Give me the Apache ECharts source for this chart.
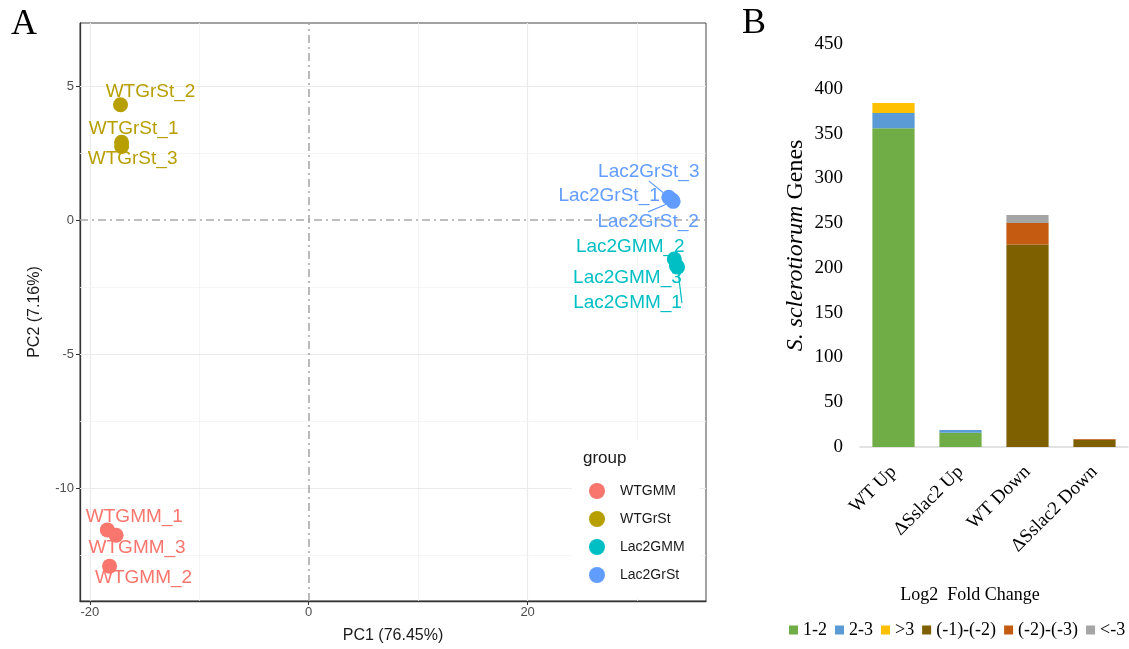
<!DOCTYPE html>
<html>
<head>
<meta charset="utf-8">
<script src="https://cdn.jsdelivr.net/npm/echarts@6/dist/echarts.min.js"></script>
<style>
  html, body { margin: 0; background: #fff; }
  #chart { width: 1129px; height: 649px; }
</style>
</head>
<body>
<div id="chart"></div>
<script>
// ---- panel A data (PCA) ----
var groups = ['WTGMM', 'WTGrSt', 'Lac2GMM', 'Lac2GrSt'];
var wtgmmNames = ['WTGMM_1', 'WTGMM_3', 'WTGMM_2'];
var wtgmmPC1 = [-18.4, -17.6, -18.2];
var wtgmmPC2 = [-11.55, -11.75, -12.9];
var wtgrstNames = ['WTGrSt_2', 'WTGrSt_1', 'WTGrSt_3'];
var wtgrstPC1 = [-17.2, -17.1, -17.1];
var wtgrstPC2 = [4.3, 2.9, 2.75];
var lacgmmNames = ['Lac2GMM_2', 'Lac2GMM_3', 'Lac2GMM_1'];
var lacgmmPC1 = [33.4, 33.6, 33.7];
var lacgmmPC2 = [-1.45, -1.7, -1.75];
var lacgrstNames = ['Lac2GrSt_3', 'Lac2GrSt_1', 'Lac2GrSt_2'];
var lacgrstPC1 = [32.9, 33.2, 33.3];
var lacgrstPC2 = [0.85, 0.75, 0.7];

// ---- panel B data (gene counts) ----
var comparisons = ['WT Up', '\u0394Sslac2 Up', 'WT Down', '\u0394Sslac2 Down'];
var bins = ['1-2', '2-3', '>3', '(-1)-(-2)', '(-2)-(-3)', '<-3'];
var fc1to2 = [356, 16, 0, 0];
var fc2to3 = [17, 3, 0, 0];
var fcOver3 = [11, 0, 0, 0];
var fcM1toM2 = [0, 0, 226, 8];
var fcM2toM3 = [0, 0, 24, 1];
var fcUnderM3 = [0, 0, 9, 0];

// label placement (pixel shift from point, like ggrepel)
var labelShift = {
  'WTGMM_1': [27, -13], 'WTGMM_3': [21, 12], 'WTGMM_2': [34, 12],
  'WTGrSt_2': [30, -13], 'WTGrSt_1': [12, -14], 'WTGrSt_3': [11, 12],
  'Lac2GMM_2': [-44, -12], 'Lac2GMM_3': [-49, 12], 'Lac2GMM_1': [-50, 36],
  'Lac2GrSt_3': [-20, -26], 'Lac2GrSt_1': [-63, -4], 'Lac2GrSt_2': [-25, 20]
};
var withLine = ['Lac2GrSt_3', 'Lac2GrSt_2', 'Lac2GMM_1'];

var groupColors = ['#F8766D', '#B79F00', '#00BFC4', '#619CFF'];
var binColors = ['#70AD47', '#5B9BD5', '#FFC000', '#7F6000', '#C55A11', '#A5A5A5'];
var sans = 'Liberation Sans, Arial, sans-serif';
var serif = 'Liberation Serif, Times New Roman, serif';

function pts(names, xs, ys) {
  return names.map(function (n, i) {
    var item = { name: n, value: [xs[i], ys[i]] };
    if (withLine.indexOf(n) >= 0) item.labelLine = { show: true };
    return item;
  });
}

function scatterSeries(idx, data) {
  return {
    name: groups[idx],
    type: 'scatter',
    xAxisIndex: 0, yAxisIndex: 0,
    symbolSize: 15,
    z: 3,
    itemStyle: { color: groupColors[idx], opacity: 1 },
    label: {
      show: true, position: 'inside', formatter: '{b}',
      color: groupColors[idx], fontFamily: sans, fontSize: 19
    },
    labelLine: { show: false, lineStyle: { color: groupColors[idx], width: 1.2 } },
    labelLayout: function (p) {
      var o = labelShift[p.text];
      return o ? { dx: o[0], dy: o[1] } : {};
    },
    data: data
  };
}

function barSeries(idx, values) {
  return {
    name: bins[idx],
    type: 'bar',
    stack: 'genes',
    xAxisIndex: 1, yAxisIndex: 1,
    barCategoryGap: '37%',
    itemStyle: { color: binColors[idx] },
    data: values
  };
}

// grid lines for panel A (ggplot style)
var majorLine = { color: '#EBEBEB', width: 1.2, type: 'solid' };
var minorLine = { color: '#F3F3F3', width: 0.8, type: 'solid' };
var zeroLine = { color: '#A9A9A9', width: 1.6, type: [8, 4, 2, 4] };
var gridLines = [
  { xAxis: -20, lineStyle: majorLine }, { xAxis: 20, lineStyle: majorLine },
  { xAxis: -10, lineStyle: minorLine }, { xAxis: 10, lineStyle: minorLine }, { xAxis: 30, lineStyle: minorLine },
  { yAxis: 5, lineStyle: majorLine }, { yAxis: -5, lineStyle: majorLine }, { yAxis: -10, lineStyle: majorLine },
  { yAxis: 2.5, lineStyle: minorLine }, { yAxis: -2.5, lineStyle: minorLine },
  { yAxis: -7.5, lineStyle: minorLine }, { yAxis: -12.5, lineStyle: minorLine },
  { xAxis: 0, lineStyle: zeroLine }, { yAxis: 0, lineStyle: zeroLine }
];

var chart = echarts.init(document.getElementById('chart'));
chart.setOption({
  animation: false,
  backgroundColor: '#fff',
  graphic: [
    { type: 'text', left: 11, top: 7, style: { text: 'A', font: '36px ' + serif, fill: '#000' } },
    { type: 'text', left: 742, top: 6, style: { text: 'B', font: '36px ' + serif, fill: '#000' } },
    { type: 'text', z: 100, left: 583, top: 450, style: { text: 'group', font: '17px ' + sans, fill: '#1a1a1a' } }
  ],
  legend: [
    {
      // white box inside the panel, like ggplot's legend background
      data: groups, orient: 'vertical', left: 572, top: 440, z: 4,
      padding: [43, 15, 15, 17], backgroundColor: '#fff',
      icon: 'circle', itemWidth: 36, itemHeight: 16, itemGap: 12,
      textStyle: { fontFamily: sans, fontSize: 14, color: '#1a1a1a' }
    },
    {
      data: bins, orient: 'horizontal', left: 789, top: 621, width: 340, padding: 0,
      icon: 'rect', itemWidth: 9, itemHeight: 9, itemGap: 8,
      textStyle: { fontFamily: serif, fontSize: 18, color: '#000' }
    }
  ],
  grid: [
    { left: 80, top: 23, width: 626, height: 581, show: true, borderColor: '#444', borderWidth: 1, backgroundColor: 'transparent' },
    { left: 860, top: 44, width: 268, height: 403 }
  ],
  xAxis: [
    {
      type: 'value', gridIndex: 0, min: -20.9, max: 36.3,
      name: 'PC1 (76.45%)', nameLocation: 'middle', nameGap: 27,
      nameTextStyle: { fontFamily: sans, fontSize: 16, color: '#1a1a1a' },
      axisLine: { show: true, onZero: false, lineStyle: { color: '#333', width: 1.3 } },
      axisTick: { show: true, customValues: [-20, 0, 20], length: 4, lineStyle: { color: '#333' } },
      axisLabel: { customValues: [-20, 0, 20], color: '#4D4D4D', fontFamily: sans, fontSize: 13, margin: 5 },
      splitLine: { show: false }
    },
    {
      type: 'category', gridIndex: 1, data: comparisons,
      name: 'Log2  Fold Change', nameLocation: 'middle', nameGap: 139,
      nameTextStyle: { fontFamily: serif, fontSize: 18, color: '#000', padding: [0, 48, 0, 0] },
      axisLine: { show: true, lineStyle: { color: '#D9D9D9', width: 1.5 } },
      axisTick: { show: false },
      axisLabel: { rotate: 45, interval: 0, fontFamily: serif, fontSize: 19, color: '#000', margin: 22 }
    }
  ],
  yAxis: [
    {
      type: 'value', gridIndex: 0, min: -14.2, max: 7.35,
      name: 'PC2 (7.16%)', nameLocation: 'middle', nameRotate: 90, nameGap: 37,
      nameTextStyle: { fontFamily: sans, fontSize: 16, color: '#1a1a1a' },
      axisLine: { show: true, onZero: false, lineStyle: { color: '#333', width: 1.3 } },
      axisTick: { show: true, customValues: [-10, -5, 0, 5], length: 4, lineStyle: { color: '#333' } },
      axisLabel: { customValues: [-10, -5, 0, 5], color: '#4D4D4D', fontFamily: sans, fontSize: 13, margin: 6 },
      splitLine: { show: false }
    },
    {
      type: 'value', gridIndex: 1, min: 0, max: 450, interval: 50,
      name: '{i|S. sclerotiorum} Genes', nameLocation: 'middle', nameRotate: 90, nameGap: 52,
      nameTextStyle: {
        fontFamily: serif, fontSize: 24, color: '#000',
        rich: { i: { fontFamily: serif, fontSize: 24, fontStyle: 'italic', color: '#000' } }
      },
      axisLine: { show: false }, axisTick: { show: false }, splitLine: { show: false },
      axisLabel: { fontFamily: serif, fontSize: 19, color: '#000', margin: 17 }
    }
  ],
  series: [
    {
      type: 'scatter', xAxisIndex: 0, yAxisIndex: 0, data: [], z: 1, silent: true,
      markLine: { z: 1, silent: true, symbol: 'none', label: { show: false }, animation: false, data: gridLines }
    },
    scatterSeries(0, pts(wtgmmNames, wtgmmPC1, wtgmmPC2)),
    scatterSeries(1, pts(wtgrstNames, wtgrstPC1, wtgrstPC2)),
    scatterSeries(2, pts(lacgmmNames, lacgmmPC1, lacgmmPC2)),
    scatterSeries(3, pts(lacgrstNames, lacgrstPC1, lacgrstPC2)),
    barSeries(0, fc1to2),
    barSeries(1, fc2to3),
    barSeries(2, fcOver3),
    barSeries(3, fcM1toM2),
    barSeries(4, fcM2toM3),
    barSeries(5, fcUnderM3)
  ]
});
</script>
</body>
</html>
